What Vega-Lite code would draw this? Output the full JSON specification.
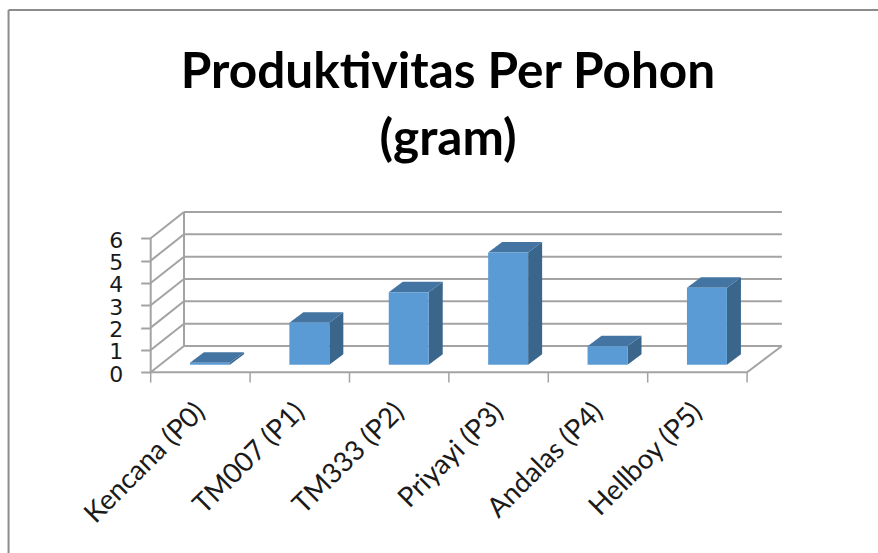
{
"$schema":"https://vega.github.io/schema/vega-lite/v6.json",
"width":878,"height":553,"padding":0,"autosize":{"type":"none"},
"background":"white",
"title":{"text":["Produktivitas Per Pohon","(gram)"],"font":"Lato","fontSize":49.5,"fontWeight":"bold","color":"#000000","lineHeight":67,"anchor":"middle","frame":"group","dx":9,"baseline":"top","offset":-165,"orient":"top"},
"config":{"view":{"stroke":null}},
"datasets":{
"bars":[
{"name":"Kencana (P0)","value":0.09},
{"name":"TM007 (P1)","value":1.88},
{"name":"TM333 (P2)","value":3.24},
{"name":"Priyayi (P3)","value":5.03},
{"name":"Andalas (P4)","value":0.83},
{"name":"Hellboy (P5)","value":3.45}],
"grid":[{"v":0},{"v":1},{"v":2},{"v":3},{"v":4},{"v":5},{"v":6}],
"ticks":[{"u":0},{"u":1},{"u":2},{"u":3},{"u":4},{"u":5},{"u":6}]
},
"layer":[
{"data":{"name":"grid"},"transform":[{"calculate":"datum.v+1.178","as":"vb"}],
 "mark":{"type":"rule","stroke":"#A3A3A3","strokeWidth":2},
 "encoding":{
  "x":{"datum":0.335,"type":"quantitative","scale":{"domain":[-1.516,7.317],"nice":false,"zero":false},
       "axis":{"orient":"bottom","offset":-180.7,"values":[0.5,1.5,2.5,3.5,4.5,5.5],
        "labelExpr":"['Kencana (P0)','TM007 (P1)','TM333 (P2)','Priyayi (P3)','Andalas (P4)','Hellboy (P5)'][floor(datum.value)]",
        "labelAngle":-45,"labelAlign":"right","labelBaseline":"middle","labelFont":"Lato","labelFontSize":27.5,"labelColor":"#1a1a1a","labelPadding":35,"labelOverlap":false,"labelFlush":false,"ticks":false,"domain":false,"grid":false,"title":null}},
  "x2":{"datum":6.35},
  "y":{"field":"vb","type":"quantitative","scale":{"domain":[-8.09,16.67],"nice":false,"zero":false},
       "axis":{"orient":"left","offset":-150.7,"values":[0,1,2,3,4,5,6],"format":"d","labelFont":"DejaVu Sans","labelFontSize":22,"labelColor":"#1a1a1a","labelPadding":18,"labelOffset":2,"tickSize":10,"tickColor":"#A3A3A3","tickWidth":2,"domain":false,"grid":false,"title":null,"labelOverlap":false,"labelFlush":false}}
 }},
{"data":{"name":"grid"},"transform":[{"calculate":"datum.v+1.178","as":"vb"}],
 "mark":{"type":"rule","stroke":"#A3A3A3","strokeWidth":2},
 "encoding":{"x":{"datum":0},"x2":{"datum":0.335},"y":{"field":"v","type":"quantitative"},"y2":{"field":"vb"}}},
{"data":{"name":"grid"},"transform":[{"filter":"datum.v==0"},{"calculate":"datum.v+1.178","as":"vb"}],
 "layer":[
  {"mark":{"type":"rule","stroke":"#A3A3A3","strokeWidth":2},
   "encoding":{"x":{"datum":6},"x2":{"datum":6.35},"y":{"field":"v","type":"quantitative"},"y2":{"field":"vb"}}},
  {"mark":{"type":"rule","stroke":"#A3A3A3","strokeWidth":2},
   "encoding":{"x":{"datum":0},"x2":{"datum":6},"y":{"field":"v","type":"quantitative"}}},
  {"mark":{"type":"rule","stroke":"#A3A3A3","strokeWidth":2},
   "encoding":{"x":{"datum":0},"y":{"datum":0},"y2":{"datum":6}}},
  {"mark":{"type":"rule","stroke":"#A3A3A3","strokeWidth":2},
   "encoding":{"x":{"datum":0.335},"y":{"datum":1.178},"y2":{"datum":7.178}}},
  {"mark":{"type":"rule","stroke":"#8C8C8C","strokeWidth":2},
   "encoding":{"x":{"datum":-1.43},"x2":{"datum":7.317},"y":{"datum":16.225}}},
  {"mark":{"type":"rule","stroke":"#8C8C8C","strokeWidth":2},
   "encoding":{"x":{"datum":-1.43},"y":{"datum":16.225},"y2":{"datum":-8.09}}}
 ]},
{"data":{"name":"ticks"},"mark":{"type":"rule","stroke":"#A3A3A3","strokeWidth":1.5},
 "encoding":{"x":{"field":"u","type":"quantitative"},"y":{"datum":0},"y2":{"datum":-0.46}}},
{"data":{"name":"bars"},
 "transform":[
  {"window":[{"op":"row_number","as":"i"}]},
  {"calculate":"datum.i-1+0.395","as":"L"},
  {"calculate":"datum.i-1+0.797","as":"R"},
  {"calculate":"0.34","as":"base"},
  {"calculate":"datum.value+0.34","as":"top"}
 ],
 "layer":[
  {"transform":[{"calculate":"[0,1]","as":"t"},{"flatten":["t"]},
    {"calculate":"datum.R+datum.t*0.141","as":"xs"},
    {"calculate":"datum.base+datum.t*0.47","as":"y0"},
    {"calculate":"datum.top+datum.t*0.47","as":"y1"}],
   "mark":{"type":"area","orient":"vertical","fill":"#3A668C"},
   "encoding":{"x":{"field":"xs","type":"quantitative"},"y":{"field":"y0","type":"quantitative"},"y2":{"field":"y1"},"detail":{"field":"name"}}},
  {"transform":[{"calculate":"[0,1,2,3]","as":"t"},{"flatten":["t"]},
    {"calculate":"[datum.L,datum.L+0.141,datum.R,datum.R+0.141][datum.t]","as":"xs"},
    {"calculate":"datum.top+(datum.t==3?0.47:0)","as":"y0"},
    {"calculate":"datum.top+(datum.t==0?0:0.47)","as":"y1"}],
   "mark":{"type":"area","orient":"vertical","fill":"#4475A2"},
   "encoding":{"x":{"field":"xs","type":"quantitative"},"y":{"field":"y0","type":"quantitative"},"y2":{"field":"y1"},"detail":{"field":"name"}}},
  {"mark":{"type":"rect","fill":"#5B9BD5"},
   "encoding":{"x":{"field":"L","type":"quantitative"},"x2":{"field":"R"},"y":{"field":"base","type":"quantitative"},"y2":{"field":"top"}}}
 ]}
]
}
